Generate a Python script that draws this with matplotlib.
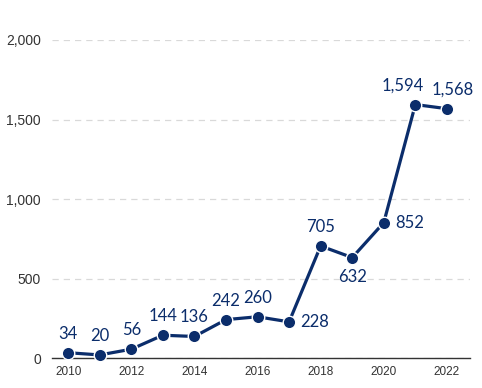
import matplotlib.pyplot as plt
from matplotlib.ticker import FuncFormatter

years = [2010, 2011, 2012, 2013, 2014, 2015, 2016, 2017, 2018, 2019, 2020, 2021, 2022]
values = [34, 20, 56, 144, 136, 242, 260, 228, 705, 632, 852, 1594, 1568]
# where each value label sits relative to its point
label_pos = ["above", "above", "above", "above", "above", "above", "above",
             "right", "above", "below", "right", "aboveleft", "aboveright"]

navy = "#0b2d6b"

fig = plt.figure(figsize=(4.82, 3.88), dpi=100)
ax = fig.add_axes([0.108, 0.077, 0.867, 0.82])

ax.plot(years, values, color=navy, lw=2.3, marker="o", ms=9,
        markerfacecolor=navy, markeredgecolor="white", markeredgewidth=1.0,
        zorder=5, clip_on=False)

offsets = {"above": ((0, 8), "center", "bottom"),
           "below": ((0, -8), "center", "top"),
           "right": ((8, 0), "left", "center"),
           "aboveleft": ((-9, 8), "center", "bottom"),
           "aboveright": ((4, 8), "center", "bottom")}
for x, y, p in zip(years, values, label_pos):
    off, ha, va = offsets[p]
    ax.annotate(f"{y:,}", (x, y), xytext=off, textcoords="offset points",
                ha=ha, va=va, fontsize=12, color=navy, family="Lato")

ax.set_xlim(2009.49, 2022.73)
ax.set_ylim(0, 2000)
ax.set_yticks([0, 500, 1000, 1500, 2000])
ax.yaxis.set_major_formatter(FuncFormatter(lambda v, _: f"{int(v):,}"))
ax.set_xticks(range(2010, 2023, 2))

ax.grid(axis="y", color="#d9d9d9", ls=(0, (5, 4)), lw=0.9)
ax.set_axisbelow(True)
for s in ["top", "right", "left"]:
    ax.spines[s].set_visible(False)
ax.spines["bottom"].set_color("#333333")
ax.spines["bottom"].set_linewidth(1.0)

ax.tick_params(axis="y", length=0, pad=8, labelsize=10, labelcolor="#333333")
ax.tick_params(axis="x", length=0, pad=6, labelsize=8.5, labelcolor="#333333")
for lab in ax.get_xticklabels() + ax.get_yticklabels():
    lab.set_family("Liberation Sans")

fig.savefig("out.png", dpi=100)
